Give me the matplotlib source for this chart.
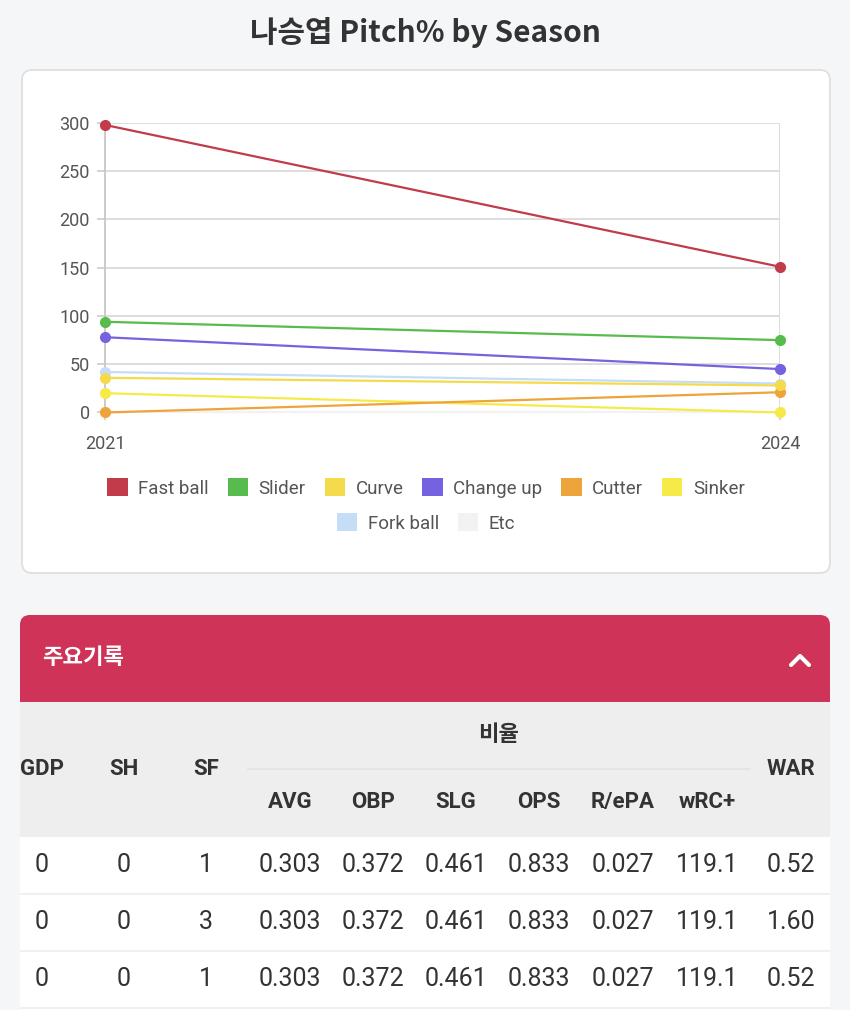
import matplotlib
matplotlib.use("Agg")
import matplotlib.pyplot as plt
from matplotlib.patches import FancyBboxPatch, Rectangle, Patch

#----------
# Data
years = [2021, 2024]
pitch_names = ["Fast ball", "Slider", "Curve", "Change up", "Cutter", "Sinker", "Fork ball", "Etc"]
fast_ball = [298, 151]
slider = [94, 75]
curve = [36, 28]
change_up = [78, 45]
cutter = [0, 21]
sinker = [20, 0]
fork_ball = [42, 30]
etc = [0, 0]
pitch_colors = ["#C23B4B", "#57BB4E", "#F5DA4C", "#7462E0", "#EDA43A", "#F6EA48", "#C6DDF7", "#F2F2F2"]
y_ticks = [0, 50, 100, 150, 200, 250, 300]

player = "나승엽"
section_title = "주요기록"
group_label = "비율"
left_cols = ["GDP", "SH", "SF"]
ratio_cols = ["AVG", "OBP", "SLG", "OPS", "R/ePA", "wRC+"]
right_cols = ["WAR"]
table_rows = [
    ["0", "0", "1", "0.303", "0.372", "0.461", "0.833", "0.027", "119.1", "0.52"],
    ["0", "0", "3", "0.303", "0.372", "0.461", "0.833", "0.027", "119.1", "1.60"],
    ["0", "0", "1", "0.303", "0.372", "0.461", "0.833", "0.027", "119.1", "0.52"],
]
#----------

FONT = ["Roboto", "Noto Sans CJK KR", "DejaVu Sans"]
plt.rcParams["font.family"] = FONT

W, H = 850, 1010
fig = plt.figure(figsize=(W / 100, H / 100), dpi=100, facecolor="#F5F6F8")

# background layer in pixel coords
bg = fig.add_axes([0, 0, 1, 1], zorder=0)
bg.set_xlim(0, W)
bg.set_ylim(H, 0)
bg.axis("off")

bg.text(425, 33, f"{player} Pitch% by Season", ha="center", va="center",
        fontsize=21.5, fontweight="bold", color="#333333", family=["Noto Sans CJK KR", "DejaVu Sans"])

card = FancyBboxPatch((22, 70), 808, 503, boxstyle="round,pad=0,rounding_size=10",
                      facecolor="white", edgecolor="#DDDDDD", linewidth=1.2)
bg.add_patch(card)

# line chart
ax = fig.add_axes([105 / W, 1 - 412.5 / H, 675 / W, 289.5 / H], zorder=1)
ax.set_facecolor("none")
series = [fast_ball, slider, curve, change_up, cutter, sinker, fork_ball, etc]
draw_order = [7, 6, 5, 4, 2, 3, 1, 0]
for i in draw_order:
    ax.plot(years, series[i], color=pitch_colors[i], linewidth=1.6, marker="o",
            markersize=7, clip_on=False, zorder=3 + (7 - i) * 0.1)

ax.set_xlim(years[0], years[-1])
ax.set_ylim(0, 300)
ax.set_xticks(years)
ax.set_yticks(y_ticks)
ax.grid(True, color="#DADADA", linewidth=1.3)
ax.set_axisbelow(True)
for s in ["top", "right", "bottom"]:
    ax.spines[s].set_visible(False)
ax.spines["left"].set_color("#C8C8C8")
ax.spines["left"].set_linewidth(1.3)
ax.tick_params(axis="both", colors="#D0D0D0", length=6, width=1.3, labelcolor="#555555", labelsize=13)
ax.tick_params(axis="y", pad=5)
ax.tick_params(axis="x", pad=10)

handles = [Patch(facecolor=c, edgecolor="none") for c in pitch_colors]
leg_kw = dict(frameon=False, fontsize=13.5, handlelength=1.1, handleheight=1.1,
              handletextpad=0.55, columnspacing=1.0, labelcolor="#555555")
leg1 = fig.legend(handles[:6], pitch_names[:6], ncol=6, loc="center",
                  bbox_to_anchor=(426 / W, 1 - 488 / H), **leg_kw)
leg2 = fig.legend(handles[6:], pitch_names[6:], ncol=2, loc="center",
                  bbox_to_anchor=(426 / W, 1 - 523 / H), **leg_kw)

# table section
tb = fig.add_axes([20 / W, 0, 810 / W, (H - 615) / H], zorder=2)
tb.set_xlim(20, 830)
tb.set_ylim(H, 615)
tb.axis("off")

tb.add_patch(FancyBboxPatch((20, 615), 810, 87, boxstyle="round,pad=0,rounding_size=10",
                            facecolor="#CF3357", edgecolor="none", clip_on=False))
tb.add_patch(Rectangle((20, 680), 810, 22, facecolor="#CF3357", edgecolor="none"))
tb.text(42, 658, section_title, ha="left", va="center", fontsize=16, fontweight="bold",
        color="white", family=["Noto Sans CJK KR", "DejaVu Sans"])
tb.plot([791, 800, 809], [665, 656, 665], color="white", linewidth=3,
        solid_capstyle="round", solid_joinstyle="round")

tb.add_patch(Rectangle((20, 702), 810, 135, facecolor="#EEEEEE", edgecolor="none"))
tb.add_patch(Rectangle((20, 837), 810, 173, facecolor="white", edgecolor="none"))
tb.plot([248, 750], [769, 769], color="#E2E2E2", linewidth=1.2)

col_x = [42, 124, 206, 290, 373, 456, 539, 623, 707, 791]
hdr_kw = dict(ha="center", va="center", fontsize=16, fontweight="bold", color="#333333",
              clip_on=True, family=["Roboto", "Noto Sans CJK KR"])
for name, x in zip(left_cols, col_x[:3]):
    tb.text(x, 769, name, **hdr_kw)
tb.text((col_x[3] + col_x[8]) / 2, 735, group_label, **hdr_kw)
for name, x in zip(ratio_cols, col_x[3:9]):
    tb.text(x, 802, name, **hdr_kw)
for name, x in zip(right_cols, col_x[9:]):
    tb.text(x, 769, name, **hdr_kw)

row_y = [865, 922, 979]
for row, y in zip(table_rows, row_y):
    for val, x in zip(row, col_x):
        tb.text(x, y, val, ha="center", va="center", fontsize=18, color="#333333", clip_on=True)
    tb.plot([20, 830], [y + 29, y + 29], color="#EDEDED", linewidth=1.2)

fig.savefig("out.png", dpi=100, facecolor=fig.get_facecolor())
